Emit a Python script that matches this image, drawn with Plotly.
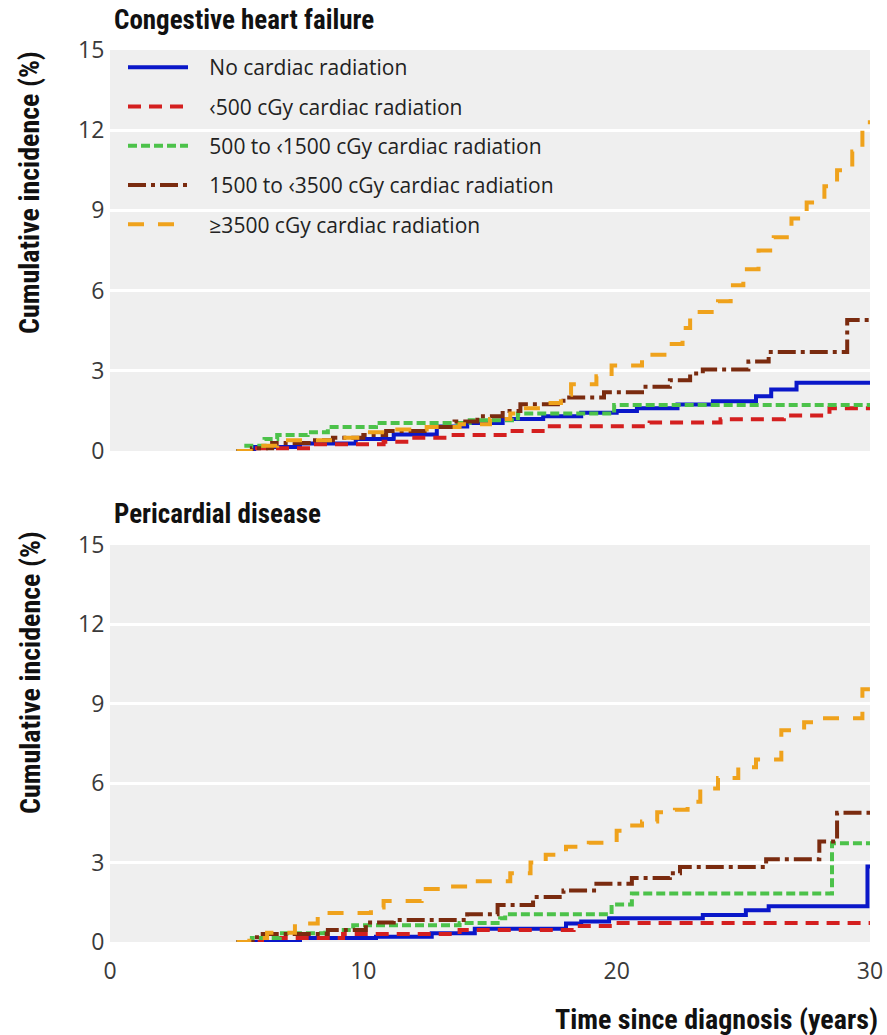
import plotly.graph_objects as go

# ---------------- data ----------------
series_names = [
    "No cardiac radiation",
    "\u2039500 cGy cardiac radiation",
    "500 to \u20391500 cGy cardiac radiation",
    "1500 to \u20393500 cGy cardiac radiation",
    "\u22653500 cGy cardiac radiation",
]

# Congestive heart failure (top panel)
chf_none_t = [5.0, 5.7, 7.5, 9.7, 11.2, 12.9, 14.1, 15.5, 17.1, 18.6, 20.0, 20.8, 22.4, 23.8, 25.5, 26.1, 27.1, 30.0]
chf_none_v = [0, 0.15, 0.28, 0.45, 0.62, 0.92, 1.05, 1.2, 1.3, 1.43, 1.5, 1.6, 1.74, 1.86, 2.05, 2.3, 2.55, 2.55]
chf_lt500_t = [5.0, 5.6, 8.0, 10.8, 11.8, 13.2, 15.7, 17.2, 21.3, 24.1, 26.6, 28.4, 30.0]
chf_lt500_v = [0, 0.1, 0.25, 0.35, 0.5, 0.6, 0.75, 0.93, 1.07, 1.19, 1.33, 1.6, 1.6]
chf_500_t = [5.0, 5.3, 6.1, 6.6, 7.8, 8.6, 10.5, 14.2, 16.1, 19.9, 30.0]
chf_500_v = [0, 0.2, 0.45, 0.6, 0.7, 0.9, 1.05, 1.15, 1.4, 1.72, 1.72]
chf_1500_t = [5.0, 5.6, 6.4, 8.0, 8.8, 10.0, 10.9, 12.5, 13.6, 14.5, 15.5, 16.2, 17.9, 19.5, 21.0, 22.1, 22.9, 23.4, 25.2, 26.0, 29.1, 30.0]
chf_1500_v = [0, 0.1, 0.3, 0.4, 0.5, 0.6, 0.75, 0.9, 1.1, 1.3, 1.5, 1.75, 2.0, 2.2, 2.4, 2.65, 2.9, 3.05, 3.35, 3.7, 4.9, 4.9]
chf_3500_t = [5.0, 5.8, 6.6, 8.9, 10.0, 11.2, 12.5, 13.8, 15.0, 15.8, 16.3, 17.2, 17.8, 18.2, 19.2, 19.8, 21.0, 22.0, 22.6, 22.9, 24.0, 24.5, 25.0, 25.6, 26.2, 26.9, 27.5, 28.2, 28.7, 29.3, 29.7, 30.0]
chf_3500_v = [0, 0.2, 0.4, 0.5, 0.7, 0.8, 0.9, 1.0, 1.2, 1.4, 1.6, 1.8, 2.1, 2.5, 2.8, 3.2, 3.6, 4.0, 4.6, 5.2, 5.6, 6.2, 6.8, 7.5, 8.0, 8.7, 9.3, 9.9, 10.5, 11.2, 12.3, 12.3]

# Pericardial disease (bottom panel)
per_none_t = [5.0, 7.5, 10.5, 12.7, 14.4, 18.0, 18.6, 19.7, 23.4, 25.1, 26.0, 29.9, 30.0]
per_none_v = [0, 0.15, 0.2, 0.33, 0.5, 0.7, 0.77, 0.9, 1.02, 1.2, 1.35, 2.85, 2.85]
per_lt500_t = [5.0, 6.0, 9.2, 13.8, 18.3, 19.9, 30.0]
per_lt500_v = [0, 0.15, 0.3, 0.45, 0.6, 0.72, 0.72]
per_500_t = [5.0, 5.6, 6.7, 8.5, 9.6, 13.8, 15.4, 15.6, 19.8, 20.6, 28.5, 30.0]
per_500_v = [0, 0.15, 0.33, 0.45, 0.63, 0.72, 0.9, 1.05, 1.42, 1.83, 3.73, 3.73]
per_1500_t = [5.0, 5.8, 8.6, 10.1, 11.2, 14.1, 15.3, 16.7, 17.9, 19.2, 20.6, 22.1, 22.5, 25.9, 28.0, 28.7, 30.0]
per_1500_v = [0, 0.3, 0.45, 0.74, 0.83, 1.05, 1.4, 1.7, 1.95, 2.2, 2.42, 2.6, 2.83, 3.13, 3.8, 4.88, 4.88]
per_3500_t = [5.0, 5.5, 6.2, 7.3, 8.2, 10.3, 10.8, 12.3, 13.3, 14.4, 15.8, 16.6, 17.2, 18.0, 18.9, 20.0, 20.4, 21.0, 21.6, 22.3, 22.8, 23.3, 24.0, 24.8, 25.5, 26.5, 27.4, 27.9, 29.7, 30.0]
per_3500_v = [0, 0.15, 0.35, 0.7, 1.1, 1.3, 1.55, 2.0, 2.1, 2.3, 2.6, 3.0, 3.3, 3.6, 3.75, 4.2, 4.4, 4.55, 4.9, 5.0, 5.3, 5.8, 6.2, 6.6, 6.9, 8.0, 8.3, 8.45, 9.55, 9.55]

y_ticks = [0, 3, 6, 9, 12, 15]
x_ticks = [0, 10, 20, 30]

# ---------------- styles ----------------
colors = ["#0a17c9", "#d41f1f", "#4cc24a", "#7a2b0f", "#efa21c"]
dashes = ["solid", "13px,8px", "9px,4px", "18px,5px,4px,5px", "16px,14px"]

top = [(chf_none_t, chf_none_v), (chf_lt500_t, chf_lt500_v), (chf_500_t, chf_500_v),
       (chf_1500_t, chf_1500_v), (chf_3500_t, chf_3500_v)]
bot = [(per_none_t, per_none_v), (per_lt500_t, per_lt500_v), (per_500_t, per_500_v),
       (per_1500_t, per_1500_v), (per_3500_t, per_3500_v)]

W, H = 887, 1035
L, R = 110, 17
PAD = "\u00a0\u00a0\u00a0"

fig = go.Figure()
for i, (t, v) in enumerate(top):
    fig.add_trace(go.Scatter(x=t, y=v, mode="lines", line_shape="hv", name=PAD + series_names[i],
                             legendgroup=f"g{i}",
                             line=dict(color=colors[i], width=4, dash=dashes[i]),
                             xaxis="x", yaxis="y"))
for i, (t, v) in enumerate(bot):
    fig.add_trace(go.Scatter(x=t, y=v, mode="lines", line_shape="hv", name=series_names[i],
                             legendgroup=f"g{i}", showlegend=False,
                             line=dict(color=colors[i], width=4, dash=dashes[i]),
                             xaxis="x2", yaxis="y2"))

def py(p):
    return 1 - p / H

def px(p):
    return (p - L) / (W - L - R)

tick_font = dict(family="Open Sans, Lato, sans-serif", size=23, color="#3a3a3a")
bold_font = "Liberation Sans Narrow, Roboto Condensed, Arial Narrow, Liberation Sans, sans-serif"
BS = 27

common_y = dict(range=[0, 15], tickvals=y_ticks, showgrid=True, gridcolor="white", gridwidth=3,
                zeroline=False, showline=False, tickfont=tick_font, ticks="outside",
                ticklen=0, tickcolor="rgba(0,0,0,0)", fixedrange=True)
common_x = dict(range=[0, 30], tickvals=x_ticks, showgrid=False, zeroline=False, showline=False,
                fixedrange=True)

fig.update_layout(
    width=W, height=H,
    margin=dict(l=L, r=R, t=0, b=0, autoexpand=False),
    paper_bgcolor="white",
    plot_bgcolor="#efefef",
    xaxis=dict(domain=[0, 1], anchor="y", showticklabels=False, **common_x),
    yaxis=dict(domain=[py(451), py(50)], anchor="x", **common_y),
    xaxis2=dict(domain=[0, 1], anchor="y2", showticklabels=True, tickfont=tick_font,
                ticks="outside", ticklen=8, tickcolor="rgba(0,0,0,0)", **common_x),
    yaxis2=dict(domain=[py(942), py(545)], anchor="x2", **common_y),
    showlegend=True,
    legend=dict(x=px(123), y=py(47), xanchor="left", yanchor="top", xref="paper", yref="paper",
                bgcolor="rgba(0,0,0,0)", font=dict(family="Open Sans, sans-serif", size=21, color="#222"),
                itemwidth=60, tracegroupgap=9, traceorder="grouped"),
    annotations=[
        dict(text="<b>Congestive heart failure</b>", x=px(112), y=py(20), xref="paper", yref="paper",
             xanchor="left", yanchor="middle", showarrow=False,
             font=dict(family=bold_font, size=BS, color="#111")),
        dict(text="<b>Pericardial disease</b>", x=px(112), y=py(514), xref="paper", yref="paper",
             xanchor="left", yanchor="middle", showarrow=False,
             font=dict(family=bold_font, size=BS, color="#111")),
        dict(text="<b>Cumulative incidence (%)</b>", x=px(30), y=py(193), xref="paper", yref="paper",
             xanchor="center", yanchor="middle", textangle=-90, showarrow=False,
             font=dict(family=bold_font, size=28, color="#111")),
        dict(text="<b>Cumulative incidence (%)</b>", x=px(30), y=py(673), xref="paper", yref="paper",
             xanchor="center", yanchor="middle", textangle=-90, showarrow=False,
             font=dict(family=bold_font, size=28, color="#111")),
        dict(text="<b>Time since diagnosis (years)</b>", x=px(880), y=py(1019), xref="paper", yref="paper",
             xanchor="right", yanchor="middle", showarrow=False,
             font=dict(family=bold_font, size=28, color="#111")),
    ],
)

fig.write_html("out.html", config={"displayModeBar": False},
               post_script="document.body.style.margin='0';document.body.style.overflow='hidden';")
